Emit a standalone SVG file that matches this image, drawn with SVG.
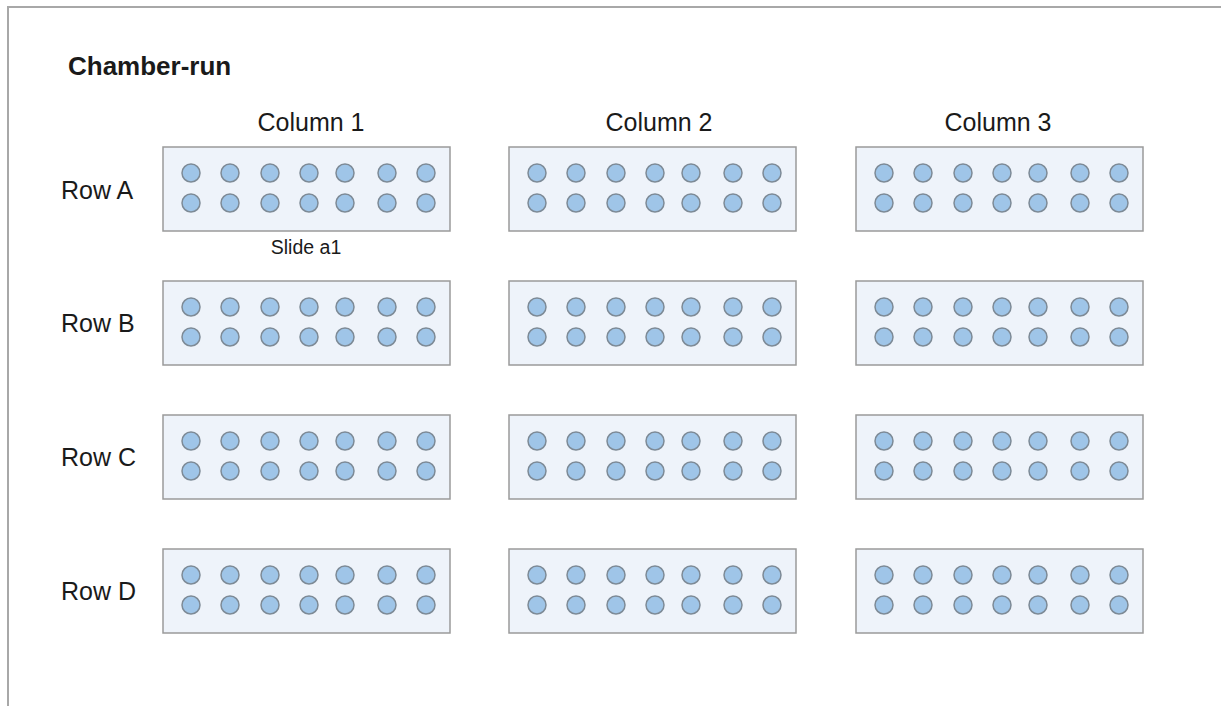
<svg xmlns="http://www.w3.org/2000/svg" width="1221" height="706" viewBox="0 0 1221 706">
<defs>
<style>
.bg{fill:#ffffff}
.frame{fill:none;stroke:#a8a8a8;stroke-width:2}
.slide{fill:#eef3fa;stroke:#9a9a9a;stroke-width:1.5}
.well{fill:#9fc5e8;stroke:#7d8a96;stroke-width:1.5}
.t{font-family:"Liberation Sans",Arial,sans-serif;fill:#1a1a1a}
.title{font-size:26px;font-weight:bold}
.head{font-size:25px;text-anchor:middle}
.row{font-size:25px}
.small{font-size:19.5px;text-anchor:middle}
</style>
<g id="wells">
<circle class="well" cx="28" cy="26" r="9"/>
<circle class="well" cx="67" cy="26" r="9"/>
<circle class="well" cx="107" cy="26" r="9"/>
<circle class="well" cx="146" cy="26" r="9"/>
<circle class="well" cx="182" cy="26" r="9"/>
<circle class="well" cx="224" cy="26" r="9"/>
<circle class="well" cx="263" cy="26" r="9"/>
<circle class="well" cx="28" cy="56" r="9"/>
<circle class="well" cx="67" cy="56" r="9"/>
<circle class="well" cx="107" cy="56" r="9"/>
<circle class="well" cx="146" cy="56" r="9"/>
<circle class="well" cx="182" cy="56" r="9"/>
<circle class="well" cx="224" cy="56" r="9"/>
<circle class="well" cx="263" cy="56" r="9"/>
</g>
<g id="slideShape">
<rect class="slide" x="0" y="0" width="287" height="84"/>
<use href="#wells"/>
</g>
</defs>
<rect class="bg" x="0" y="0" width="1221" height="706"/>
<rect class="frame" x="8" y="7" width="1230" height="720"/>
<text class="t title" x="68" y="75" font-size="18">Chamber-run</text>
<text class="t head" x="311" y="131">Column 1</text>
<text class="t head" x="659" y="131">Column 2</text>
<text class="t head" x="998" y="131">Column 3</text>
<text class="t row" x="61" y="199">Row A</text>
<text class="t row" x="61" y="332">Row B</text>
<text class="t row" x="61" y="466">Row C</text>
<text class="t row" x="61" y="600">Row D</text>
<g id="slide-a1"><use href="#slideShape" x="163" y="147"/><text class="t small" x="306" y="254">Slide a1</text></g>
<g id="slide-a2"><use href="#slideShape" x="509" y="147"/></g>
<g id="slide-a3"><use href="#slideShape" x="856" y="147"/></g>
<g id="slide-b1"><use href="#slideShape" x="163" y="281"/></g>
<g id="slide-b2"><use href="#slideShape" x="509" y="281"/></g>
<g id="slide-b3"><use href="#slideShape" x="856" y="281"/></g>
<g id="slide-c1"><use href="#slideShape" x="163" y="415"/></g>
<g id="slide-c2"><use href="#slideShape" x="509" y="415"/></g>
<g id="slide-c3"><use href="#slideShape" x="856" y="415"/></g>
<g id="slide-d1"><use href="#slideShape" x="163" y="549"/></g>
<g id="slide-d2"><use href="#slideShape" x="509" y="549"/></g>
<g id="slide-d3"><use href="#slideShape" x="856" y="549"/></g>
<g id="connectors"/>
</svg>
